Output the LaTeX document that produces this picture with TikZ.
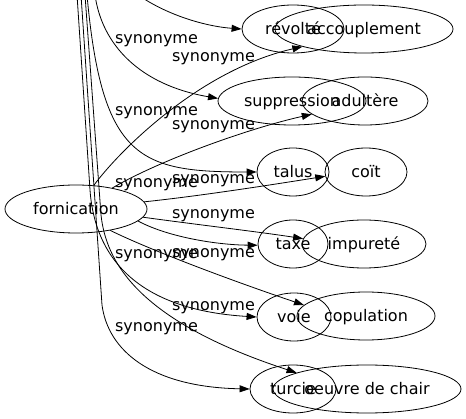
\documentclass[tikz,border=0pt]{standalone}
\usepackage{fontspec}
\setmainfont{DejaVu Sans}
\usetikzlibrary{shapes.geometric,arrows.meta}
\begin{document}
\begin{tikzpicture}[x=1pt,y=-1pt,
  gv/.style={ellipse,draw,line width=0.8pt,inner sep=0pt,minimum height=48pt,minimum width=#1,text height=15pt,text depth=3pt,font=\fontsize{16pt}{19pt}\selectfont},
  lab/.style={anchor=base,inner sep=0pt,font=\fontsize{16pt}{19pt}\selectfont},
  syn/.style={line width=0.8pt,-{Triangle[length=10pt,width=7pt]}}]
\useasboundingbox (0,0) rectangle (466,419);
\begin{scope}
\clip (0,0) rectangle (466,419);
% nodes
\node[gv=142pt] (forn) at (76,209) {\makebox[0pt]{fornication}};
\node[gv=102pt] (revolte) at (293,29) {\makebox[0pt]{révolté}};
\node[gv=178pt] (accoup) at (364,29) {\makebox[0pt]{accouplement}};
\node[gv=148pt] (suppr) at (292,101) {\makebox[0pt]{suppression}};
\node[gv=126pt] (adult) at (365,101) {\makebox[0pt]{adultère}};
\node[gv=72pt] (talus) at (293,172) {\makebox[0pt]{talus}};
\node[gv=82pt] (coit) at (366,172) {\makebox[0pt]{coït}};
\node[gv=70pt] (taxe) at (293,244) {\makebox[0pt]{taxe}};
\node[gv=124pt] (impur) at (364,244) {\makebox[0pt]{impureté}};
\node[gv=74pt] (voie) at (294,317) {\makebox[0pt]{voie}};
\node[gv=138pt] (copul) at (366,316) {\makebox[0pt]{copulation}};
\node[gv=86pt] (turcie) at (293,389) {\makebox[0pt]{turcie}};
\node[gv=188pt] (oeuvre) at (367,389) {\makebox[0pt]{oeuvre de chair}};
% free ends above the frame
\coordinate (up1) at (77,-5);
\coordinate (up2) at (81,-5);
\coordinate (up3) at (85,-5);
\coordinate (up4) at (87,-5);
\coordinate (up5) at (95,-5);
\coordinate (up6) at (120,-20);
% connectors
\draw[syn] (up6) .. controls (150,10) and (200,26) .. (revolte.west);
\draw[syn] (up5) .. controls (102,45) and (140,85) .. (suppr.178);
\draw[syn] (up4) .. controls (102,160) and (140,172) .. (talus.west);
\draw[syn] (up1) -- (90,190) .. controls (95,260) and (140,310) .. (voie.west);
\draw[syn] (up2) -- (102,305) .. controls (108,350) and (150,387) .. (turcie.west);
\draw[syn] (up3) -- (101,215) .. controls (106,260) and (135,320) .. (oeuvre.167);
\draw[syn] (forn.53) .. controls (120,150) and (200,70) .. (accoup.196);
\draw[syn] (forn.30) .. controls (160,160) and (250,128) .. (adult.194);
\draw[syn] (forn.6) .. controls (200,196) and (270,185) .. (coit.186);
\draw[syn] (forn.-7) .. controls (200,225) and (260,232) .. (impur.175);
\draw[syn] (forn.-11) .. controls (170,238) and (220,245) .. (taxe.182);
\draw[syn] (forn.-32) .. controls (150,250) and (230,280) .. (copul.170);
% labels
\node[lab] (l1) at (156.5,44) {synonyme};
\node[lab] (l2) at (213.5,62) {synonyme};
\node[lab] (l3) at (156.5,116) {synonyme};
\node[lab] (l4) at (213.5,130) {synonyme};
\node[lab] (l5) at (156.5,188) {synonyme};
\node[lab] (l6) at (213.5,184) {synonyme};
\node[lab] (l7) at (213.5,219) {synonyme};
\node[lab] (l8) at (156.5,259) {synonyme};
\node[lab] (l9) at (213.5,258) {synonyme};
\node[lab] (l10) at (213.5,311) {synonyme};
\node[lab] (l11) at (156.5,332) {synonyme};
\end{scope}
\end{tikzpicture}
\end{document}
